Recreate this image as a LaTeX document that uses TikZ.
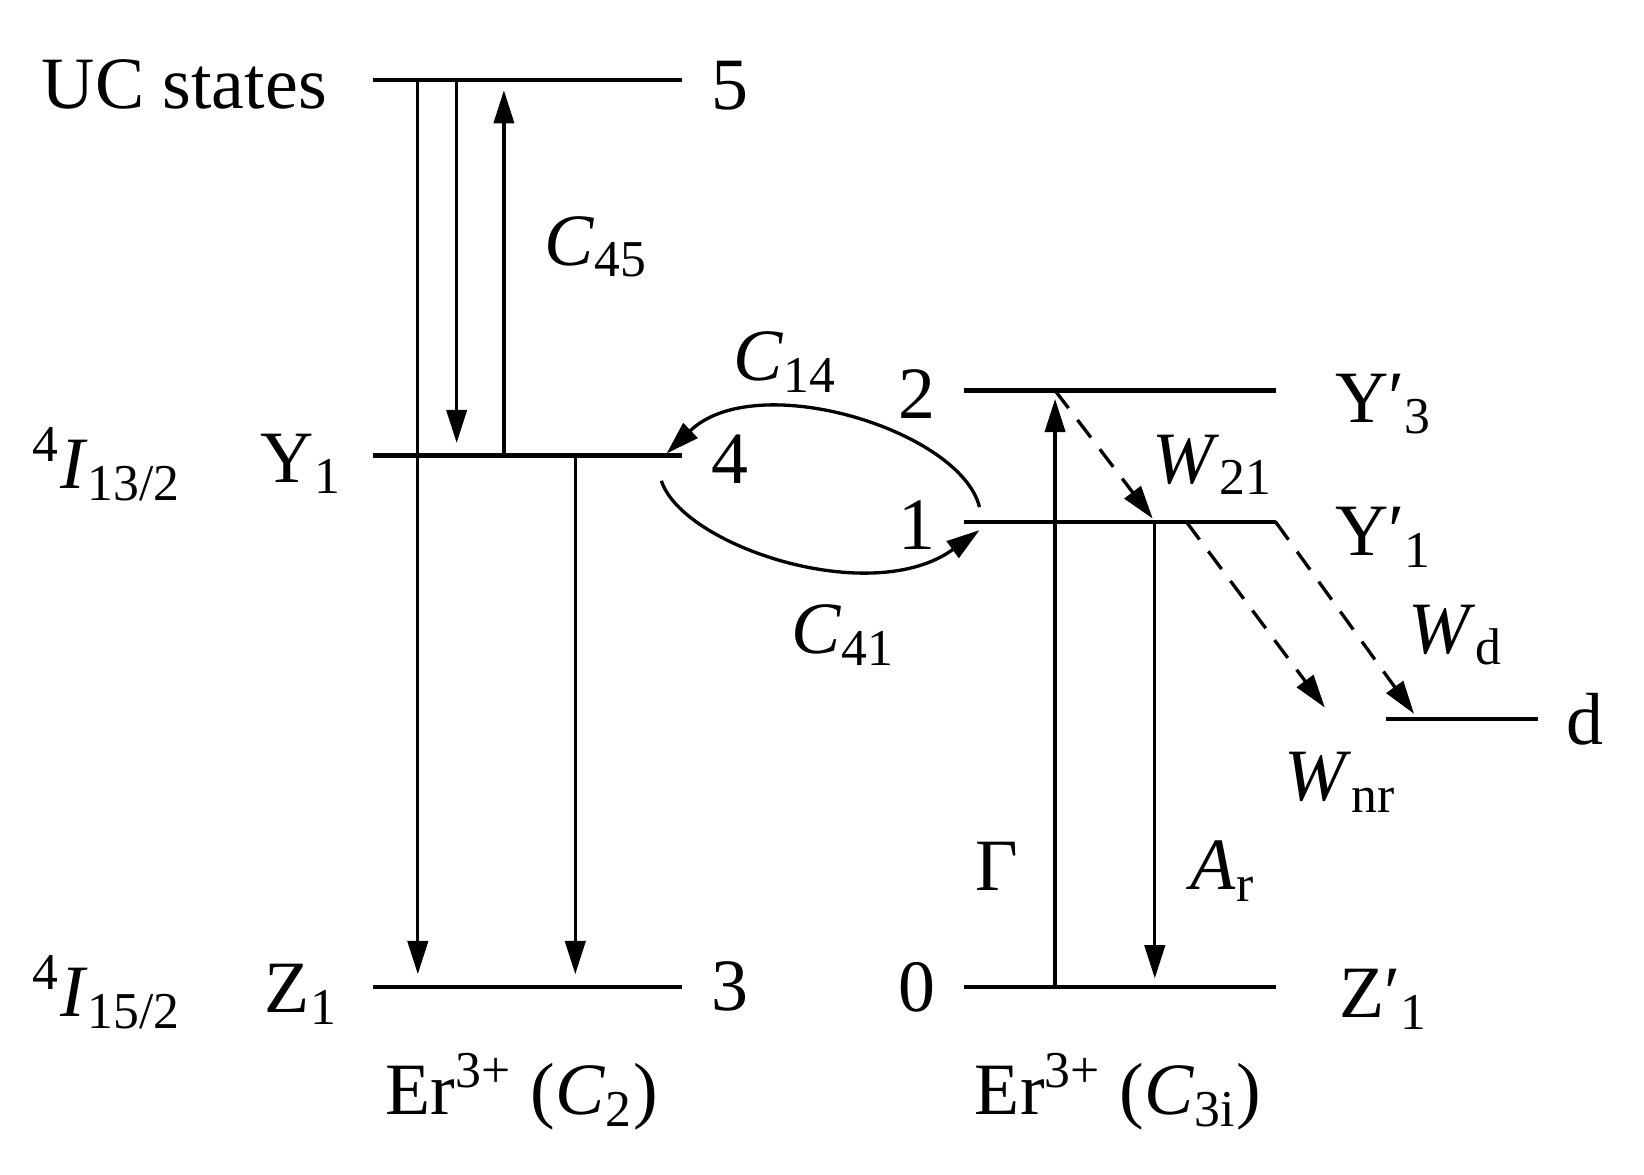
\documentclass[tikz,border=0pt]{standalone}
\usepackage{fontspec}
\setmainfont{Liberation Serif}
\usetikzlibrary{arrows.meta}
\newcommand{\sbs}[1]{\textsubscript{#1}}
\begin{document}
\begin{tikzpicture}[x=0.01cm,y=-0.01cm,
  lvl/.style={line width=1.2pt},
  tr/.style={line width=0.9pt,-{Triangle[length=9pt,width=5.5pt]}},
  ds/.style={tr,dashed,dash pattern=on 6pt off 4pt},
  lb/.style={font=\fontsize{20}{22}\selectfont,inner sep=0pt}]
\useasboundingbox (0,0) rectangle (1566,1119);
% left levels
\coordinate (L5a) at (355,76); \coordinate (L5b) at (650,76);
\coordinate (L4a) at (355,434); \coordinate (L4b) at (650,434);
\coordinate (L3a) at (355,940); \coordinate (L3b) at (650,940);
\draw[lvl] (L5a) -- (L5b); \draw[lvl] (L4a) -- (L4b); \draw[lvl] (L3a) -- (L3b);
% right levels
\coordinate (R2a) at (918,372); \coordinate (R2b) at (1215,372);
\coordinate (R1a) at (918,497); \coordinate (R1b) at (1215,497);
\coordinate (R0a) at (918,940); \coordinate (R0b) at (1215,940);
\coordinate (Da) at (1320,685); \coordinate (Db) at (1465,685);
\draw[lvl] (R2a) -- (R2b); \draw[lvl] (R1a) -- (R1b); \draw[lvl] (R0a) -- (R0b); \draw[lvl] (Da) -- (Db);
% labels
\node[lb,anchor=east] (uc) at (312,80) {UC states};
\node[lb] (n5) at (695,82) {5};
\node[lb] (n4) at (695,437) {4};
\node[lb] (n3) at (695,940) {3};
\node[lb] (i13) at (102,442) {\textsuperscript{4}\textit{I}\sbs{13/2}};
\node[lb] (y1) at (287,442) {Y\sbs{1}};
\node[lb] (i15) at (102,945) {\textsuperscript{4}\textit{I}\sbs{15/2}};
\node[lb] (z1) at (287,947) {Z\sbs{1}};
\node[lb] (n2) at (873,375) {2};
\node[lb] (n1) at (873,500) {1};
\node[lb] (n0) at (873,940) {0};
\node[lb] (y3p) at (1318,385) {Y′\sbs{3}};
\node[lb] (y1p) at (1318,512) {Y′\sbs{1}};
\node[lb] (z1p) at (1318,952) {Z′\sbs{1}};
\node[lb] (dl) at (1510,685) {d};
\node[lb] (c45) at (568,235) {\textit{C}\sbs{45}};
\node[lb] (c14) at (748,345) {\textit{C}\sbs{14}};
\node[lb] (c41) at (803,605) {\textit{C}\sbs{41}};
\node[lb] (w21) at (1155,443) {\textit{W}\sbs{21}};
\node[lb] (wd) at (1387,605) {\textit{W}\sbs{d}};
\node[lb] (wnr) at (1277,745) {\textit{W}\sbs{nr}};
\node[lb] (gam) at (950,825) {Γ};
\node[lb] (ar) at (1165,830) {\textit{A}\sbs{r}};
\node[lb] (er1) at (497,1040) {Er\textsuperscript{3+} (\textit{C}\sbs{2})};
\node[lb] (er2) at (1065,1040) {Er\textsuperscript{3+} (\textit{C}\sbs{3i})};
% transitions left
\coordinate (a1) at (398,76); \coordinate (a1e) at (398,928);
\coordinate (a2) at (435,76); \coordinate (a2e) at (435,422);
\coordinate (a3) at (480,434); \coordinate (a3e) at (480,86);
\coordinate (a4) at (548,434); \coordinate (a4e) at (548,928);
\draw[tr] (a1) -- (a1e); \draw[tr] (a2) -- (a2e);
\draw[tr] (a3) -- (a3e); \draw[tr] (a4) -- (a4e);
% right transitions
\coordinate (g0) at (1005,940); \coordinate (g2) at (1005,380);
\coordinate (r1) at (1100,497); \coordinate (r0) at (1100,932);
\draw[tr] (g0) -- (g2); \draw[tr] (r1) -- (r0);
\coordinate (d1s) at (1005,372); \coordinate (d1e) at (1098,494);
\coordinate (d2s) at (1130,497); \coordinate (d2e) at (1262,674);
\coordinate (d3s) at (1215,497); \coordinate (d3e) at (1347,680);
\draw[ds] (d1s) -- (d1e); \draw[ds] (d2s) -- (d2e); \draw[ds] (d3s) -- (d3e);
% curves
\coordinate (c14s) at (933,483); \coordinate (c14e) at (635,432);
\coordinate (c41s) at (630,458); \coordinate (c41e) at (933,505);
\draw[tr] (c14s) .. controls (915,410) and (720,350) .. (c14e);
\draw[tr] (c41s) .. controls (650,520) and (830,580) .. (c41e);
\end{tikzpicture}
\end{document}
